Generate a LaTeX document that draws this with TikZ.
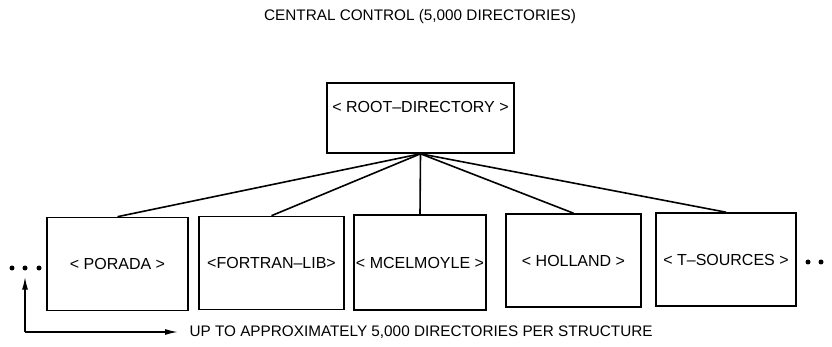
\documentclass[tikz,border=0pt]{standalone}
\usepackage{fontspec}
\setmainfont{Liberation Sans}
\usetikzlibrary{arrows.meta}
\begin{document}
\begin{tikzpicture}[x=1pt,y=-1pt,
  dirbox/.style={draw,line width=1.6pt,inner sep=0pt,font=\fontsize{16}{18}\selectfont},
  link/.style={line width=1.6pt},
  dot/.style={circle,fill,inner sep=0pt,minimum size=5pt},
  tip/.style={-{Latex[length=13pt,width=6pt]}},
  caption/.style={font=\fontsize{15.3}{17}\selectfont}]
  \useasboundingbox (0,0) rectangle (832,347);
  % heading
  \node[caption] (title) at (420,17) {CENTRAL CONTROL (5,000 DIRECTORIES)};
  % root of the structure
  \node[dirbox,minimum width=187pt,minimum height=70pt,text height=11.5pt,text depth=22pt]
    (root) at (420.5,118) {< ROOT–DIRECTORY >};
  % user directories
  \node[dirbox,minimum width=141pt,minimum height=93pt] (porada) at (117.5,264) {< PORADA >};
  \node[dirbox,minimum width=145pt,minimum height=93pt] (fortran) at (271.5,263) {<FORTRAN–LIB>};
  \node[dirbox,minimum width=132pt,minimum height=95pt] (mcel) at (420,262.5) {< MCELMOYLE >};
  \node[dirbox,minimum width=135pt,minimum height=93pt] (holland) at (573.5,260.5) {< HOLLAND >};
  \node[dirbox,minimum width=140pt,minimum height=93pt] (tsrc) at (726,259.5) {< T–SOURCES >};
  % links from the root
  \foreach \n in {porada,fortran,mcel,holland,tsrc}
    \draw[link] (root.south) -- (\n.north);
  % continuation dots
  \node[dot] (l1) at (12,268) {};
  \node[dot] (l2) at (25,268) {};
  \node[dot] (l3) at (39,268) {};
  \node[dot] (r1) at (808,262) {};
  \node[dot] (r2) at (821,262) {};
  % note on the number of directories
  \node[caption,anchor=west] (note) at (186,332) {UP TO APPROXIMATELY 5,000 DIRECTORIES PER STRUCTURE};
  \coordinate (corner) at (25,332);
  \draw[link,tip] (corner) -- ([yshift=-6pt]l2.south);
  \draw[link,tip] (corner) -- ([xshift=-8pt]note.west);
\end{tikzpicture}
\end{document}
